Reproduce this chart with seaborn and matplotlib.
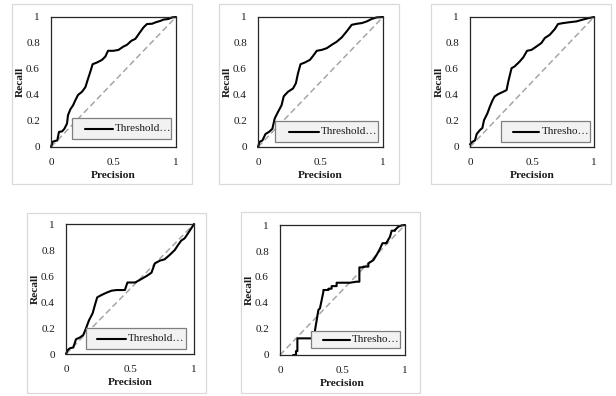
import matplotlib
matplotlib.use("Agg")
import matplotlib.pyplot as plt
from matplotlib.patches import Rectangle
from matplotlib.lines import Line2D
import seaborn as sns
import numpy as np

sns.set_style("white")
plt.rcParams['font.family'] = ['Liberation Serif', 'DejaVu Serif']

# ---- data ----
p1_x = [0, 0.013, 0.03, 0.05, 0.064, 0.088, 0.107, 0.128, 0.136, 0.155, 0.176, 0.195, 0.216, 0.248, 0.275,
        0.293, 0.315, 0.333, 0.368, 0.408, 0.435, 0.456, 0.5, 0.54, 0.58, 0.608, 0.643, 0.675, 0.71, 0.74,
        0.768, 0.808, 0.84, 0.875, 0.9, 0.94, 0.968, 1.0]
p1_y = [0, 0.04, 0.046, 0.05, 0.116, 0.12, 0.14, 0.18, 0.245, 0.29, 0.32, 0.36, 0.4, 0.425, 0.46,
        0.515, 0.58, 0.637, 0.65, 0.67, 0.696, 0.74, 0.74, 0.747, 0.773, 0.786, 0.817, 0.832, 0.88, 0.92,
        0.946, 0.948, 0.96, 0.97, 0.98, 0.985, 0.997, 1.0]

p2_x = [0, 0.013, 0.035, 0.06, 0.088, 0.115, 0.134, 0.16, 0.188, 0.206, 0.24, 0.28, 0.303, 0.32, 0.34,
        0.375, 0.415, 0.44, 0.47, 0.51, 0.55, 0.59, 0.63, 0.67, 0.71, 0.75, 0.79, 0.83, 0.87, 0.91, 0.95, 1.0]
p2_y = [0, 0.04, 0.05, 0.1, 0.116, 0.14, 0.22, 0.27, 0.32, 0.39, 0.425, 0.45, 0.49, 0.567, 0.637,
        0.65, 0.67, 0.7, 0.74, 0.747, 0.76, 0.786, 0.81, 0.843, 0.89, 0.94, 0.948, 0.953, 0.966, 0.985, 0.997, 1.0]

p3_x = [0, 0.019, 0.04, 0.054, 0.08, 0.1, 0.113, 0.14, 0.16, 0.182, 0.2, 0.228, 0.268, 0.295, 0.308,
        0.335, 0.36, 0.4, 0.43, 0.46, 0.496, 0.536, 0.576, 0.603, 0.643, 0.684, 0.71, 0.75, 0.804, 0.858,
        0.91, 0.95, 1.0]
p3_y = [0.02, 0.04, 0.05, 0.1, 0.13, 0.147, 0.206, 0.258, 0.31, 0.36, 0.39, 0.407, 0.425, 0.438, 0.5,
        0.606, 0.62, 0.657, 0.69, 0.74, 0.747, 0.773, 0.8, 0.838, 0.863, 0.907, 0.946, 0.953, 0.96, 0.966,
        0.98, 0.99, 1.0]

p4_x = [0, 0.013, 0.03, 0.057, 0.078, 0.11, 0.135, 0.156, 0.18, 0.208, 0.226, 0.244, 0.278, 0.317, 0.356,
        0.395, 0.46, 0.48, 0.54, 0.577, 0.63, 0.668, 0.694, 0.733, 0.77, 0.81, 0.85, 0.875, 0.9, 0.927,
        0.953, 0.979, 1.0]
p4_y = [0, 0.03, 0.044, 0.05, 0.113, 0.128, 0.146, 0.197, 0.26, 0.313, 0.377, 0.436, 0.454, 0.472, 0.487,
        0.492, 0.492, 0.55, 0.55, 0.57, 0.6, 0.626, 0.697, 0.718, 0.728, 0.762, 0.8, 0.838, 0.872, 0.89,
        0.928, 0.967, 1.0]

p5_x = [0.105, 0.128, 0.128, 0.139, 0.139, 0.267, 0.28, 0.28, 0.307, 0.32, 0.347, 0.347, 0.387, 0.387,
        0.413, 0.413, 0.453, 0.453, 0.56, 0.613, 0.635, 0.635, 0.667, 0.667, 0.707, 0.707, 0.747, 0.773,
        0.795, 0.82, 0.853, 0.853, 0.88, 0.893, 0.92, 0.92, 0.947, 0.973, 1.0]
p5_y = [0, 0, 0.03, 0.03, 0.128, 0.128, 0.16, 0.19, 0.346, 0.36, 0.487, 0.5, 0.5, 0.51,
        0.51, 0.53, 0.53, 0.556, 0.556, 0.564, 0.564, 0.674, 0.674, 0.68, 0.68, 0.705, 0.73, 0.77,
        0.808, 0.86, 0.86, 0.865, 0.91, 0.956, 0.956, 0.962, 0.987, 0.997, 1.0]

diag = [0, 1]
x_ticks = [0, 0.5, 1]
x_tick_labels = ["0", "0.5", "1"]
y_ticks = [0, 0.2, 0.4, 0.6, 0.8, 1]
y_tick_labels = ["0", "0.2", "0.4", "0.6", "0.8", "1"]
legend_labels = ["Threshold…", "Threshold…", "Thresho…", "Threshold…", "Thresho…"]
series = [(p1_x, p1_y), (p2_x, p2_y), (p3_x, p3_y), (p4_x, p4_y), (p5_x, p5_y)]

# ---- layout (pixels, origin top-left) ----
W, H = 616, 396
axes_px = [(51, 17, 176, 147), (258, 17, 383, 147), (470, 17, 594, 147),
           (66, 224, 194, 354), (280, 225, 405, 355)]
boxes_px = [(12, 4, 192, 184), (219, 4, 399, 184), (431, 4, 611, 184),
            (27, 213, 206, 393), (241, 212, 420, 393)]
leg_px = [(72, 118, 171, 139, 85, 113, 115),
          (275, 121, 378, 142, 289, 319, 321),
          (501, 121, 590, 142, 513, 539, 542),
          (86, 328, 186, 349, 97, 126, 128),
          (311, 331, 400, 348, 323, 350, 352)]

fig = plt.figure(figsize=(W / 100, H / 100), dpi=100)
fig.patch.set_facecolor("white")

for (bx0, by0, bx1, by1) in boxes_px:
    fig.patches.append(Rectangle((bx0 / W, 1 - by1 / H), (bx1 - bx0) / W, (by1 - by0) / H,
                                 transform=fig.transFigure, fill=False, edgecolor="#d9d9d9",
                                 linewidth=0.9))

FS = 8.0
for i, ((l, t, r, b), (xs, ys), lab, lg) in enumerate(zip(axes_px, series, legend_labels, leg_px)):
    ax = fig.add_axes([l / W, 1 - b / H, (r - l) / W, (b - t) / H])
    ax.set_facecolor("white")
    sns.lineplot(x=diag, y=diag, ax=ax, color="#a6a6a6", linewidth=1.1, linestyle=(0, (4, 2.2)),
                 sort=False, estimator=None)
    sns.lineplot(x=xs, y=ys, ax=ax, color="black", linewidth=1.5, sort=False, estimator=None)
    for ln in ax.lines:
        ln.set_clip_on(False)
    ax.set_xlim(0, 1)
    ax.set_ylim(0, 1)
    ax.set_xticks(x_ticks)
    ax.set_xticklabels(x_tick_labels)
    ax.set_yticks(y_ticks)
    ax.set_yticklabels(y_tick_labels)
    ax.tick_params(axis="both", length=0, labelsize=FS, colors="#1a1a1a")
    ax.tick_params(axis="y", pad=8)
    ax.tick_params(axis="x", pad=8)
    for sp in ax.spines.values():
        sp.set_visible(True)
        sp.set_color("#262626")
        sp.set_linewidth(0.9)
    ax.set_xlabel("Precision", fontsize=FS + 0.2, fontweight="bold", color="#1a1a1a")
    ax.set_ylabel("Recall", fontsize=FS + 0.2, fontweight="bold", color="#1a1a1a")
    ax.xaxis.set_label_coords(0.5, -28.5 / (b - t))
    ax.yaxis.set_label_coords(-31 / (r - l), 0.5)
    ax.xaxis.label.set_va("center")
    ax.yaxis.label.set_va("center")
    ax.grid(False)

    # legend box (drawn in axes coordinates)
    lx0, ly0, lx1, ly1, hx0, hx1, tx = lg
    fx = lambda px: (px - l) / (r - l)
    fy = lambda py: (b - py) / (b - t)
    ax.add_patch(Rectangle((fx(lx0), fy(ly1)), fx(lx1) - fx(lx0), fy(ly0) - fy(ly1),
                           transform=ax.transAxes, facecolor="#f2f2f2", edgecolor="#7f7f7f",
                           linewidth=0.9, zorder=5))
    ym = fy((ly0 + ly1) / 2)
    ax.add_line(Line2D([fx(hx0), fx(hx1)], [ym, ym], transform=ax.transAxes, color="black",
                       linewidth=1.5, zorder=6))
    ax.text(fx(tx), ym, lab, transform=ax.transAxes, fontsize=FS, va="center", ha="left",
            color="#1a1a1a", zorder=6, clip_on=False)

fig.savefig("out.png", dpi=100, facecolor="white")
